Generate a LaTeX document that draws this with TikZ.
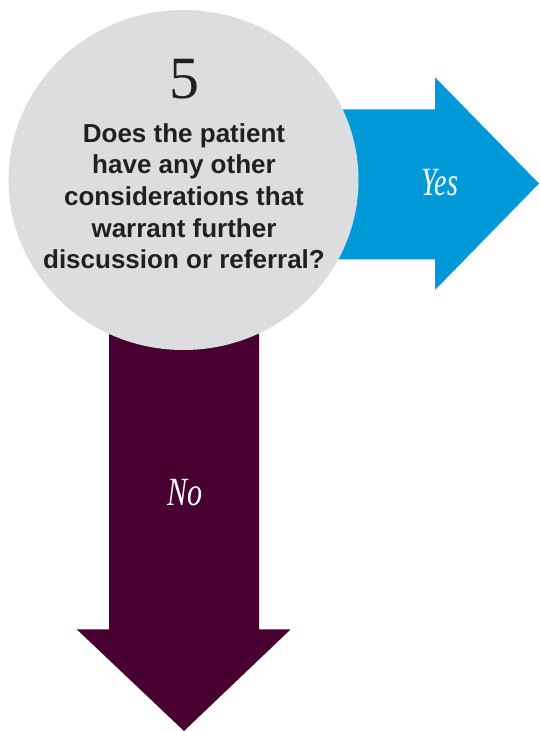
\documentclass[tikz,border=0pt]{standalone}
\usepackage{fontspec}
\setmainfont{Liberation Serif}
\setsansfont{Liberation Sans}
\usetikzlibrary{shapes.geometric}
\definecolor{circgrey}{HTML}{DCDDDF}
\definecolor{yesblue}{HTML}{0099D8}
\definecolor{nopurple}{HTML}{470030}
\definecolor{ink}{HTML}{231F20}
\tikzset{
  qcircle/.style={ellipse, fill=circgrey, minimum width=350pt, minimum height=340pt, inner sep=0pt},
  armlabel/.style={font=\fontsize{40}{40}\selectfont\itshape, text=white, inner sep=0pt, anchor=base},
}
\begin{document}
\begin{tikzpicture}[x=1pt,y=-1pt]
\useasboundingbox (0,0) rectangle (539,731);
% Yes arrow
\fill[yesblue] (300,109.3) -- (435,109.3) -- (435,77.3) -- (539,183.5) -- (435,290) -- (435,259.3) -- (300,259.3) -- cycle;
% No arrow
\fill[nopurple] (109,300) -- (259,300) -- (259,629.3) -- (290.7,629.3) -- (184,731) -- (76.7,629.3) -- (109,629.3) -- cycle;
% circle
\node[qcircle] (q) at (183.5,180) {};
\node[font=\fontsize{60}{60}\selectfont, text=ink, inner sep=0pt, anchor=base] (num) at (184,98) {5};
\node[font=\sffamily\bfseries\fontsize{26}{31.7}\selectfont, text=ink, align=center, inner sep=0pt, anchor=north] (qtext) at (184,123)
  {Does the patient\\have any other\\considerations that\\warrant further\\discussion or referral?};
\node[armlabel] (yes) at (440,195) {\scalebox{0.7}[1]{Yes}};
\node[armlabel] (no) at (185,505) {\scalebox{0.75}[1]{No}};
\end{tikzpicture}
\end{document}
